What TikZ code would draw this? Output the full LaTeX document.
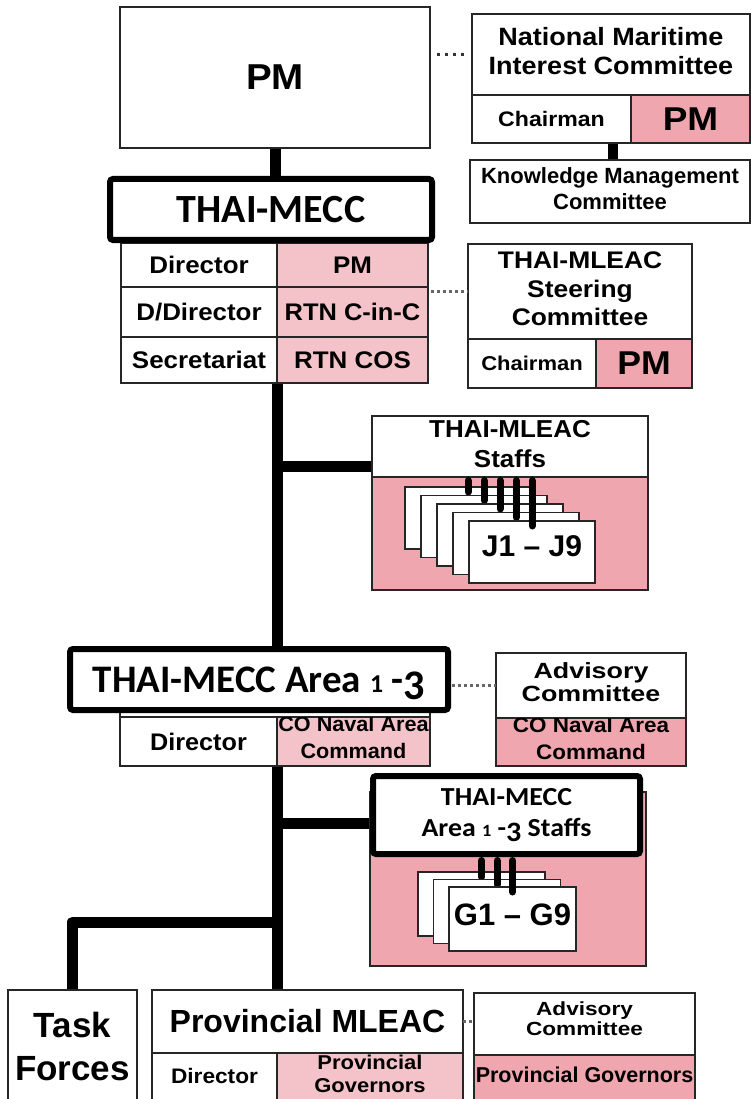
\documentclass[tikz,border=0pt]{standalone}
\usepackage{fontspec}
\usepackage{graphicx}
\newfontfamily\arl{Liberation Sans}
\newfontfamily\calfont{Carlito}
\usetikzlibrary{calc}
\pgfdeclarelayer{bg}
\pgfsetlayers{bg,main}
\definecolor{lpink}{RGB}{244,195,201}
\definecolor{dpink}{RGB}{239,166,174}
\newcommand\fs[2]{\fontsize{#1pt}{#2pt}\selectfont}
\newcommand\sx[2]{\scalebox{#1}[1]{\begin{tabular}{@{}c@{}}#2\end{tabular}}}
\newcommand\sy[2]{\scalebox{#1}[1]{#2}}
\newcommand\osone{\scalebox{0.66}{1}}
\newcommand\osthree{\raisebox{-0.18em}{\scalebox{1.08}{3}}}
\newcommand\bx[7]{\node[#1,minimum width={((#4)-(#2))*1pt},minimum height={((#5)-(#3))*1pt},anchor=north west] (#6) at (#2,#3) {#7};}
\tikzset{
 thinbox/.style={draw=black!85,line width=1.4pt,fill=white,inner sep=0pt,outer sep=0pt},
 heavybox/.style={draw=black,line width=6pt,rounded corners=3pt,fill=white,inner sep=0pt,outer sep=0pt},
 conn/.style={line width=11pt,line cap=butt,line join=round},
 cardline/.style={line width=7pt,line cap=round},
 dotline/.style={line width=3pt,dash pattern=on 2.5pt off 3.5pt,draw=black!60},
 bigdots/.style={line width=3.5pt,dash pattern=on 3pt off 5pt,draw=black!80},
}
\begin{document}
\begin{tikzpicture}[x=1pt,y=-1pt]
\useasboundingbox (0,0) rectangle (751,1099);

% ---------- top: PM and committees
\bx{thinbox,font=\arl\bfseries\fs{36}{40}}{120}{7}{430}{148}{pm}{\sy{1.07}{PM}}
\bx{thinbox,font=\arl\bfseries\fs{25}{29}}{472}{14}{750}{95}{nmic}{\sx{1.08}{National Maritime\\Interest Committee}}
\bx{thinbox,font=\arl\bfseries\fs{21}{24}}{472}{95}{631}{143}{nmicch}{\sy{1.1}{Chairman}}
\bx{thinbox,fill=dpink,font=\arl\bfseries\fs{33}{36}}{631}{95}{750}{143}{nmicpm}{\sy{1.12}{PM}}
\bx{thinbox,font=\arl\bfseries\fs{22}{26}}{470}{160}{750}{223}{km}{\sx{1.0}{Knowledge Management\\Committee}}

% ---------- THAI-MECC table
\bx{thinbox,font=\arl\bfseries\fs{24}{28}}{121}{243}{277}{287}{mtal}{\sy{1.08}{Director}}
\bx{thinbox,fill=lpink,font=\arl\bfseries\fs{24}{28}}{277}{243}{428}{287}{mtar}{\sy{1.08}{PM}}
\bx{thinbox,font=\arl\bfseries\fs{24}{28}}{121}{287}{277}{337}{mtbl}{\sy{1.08}{D/Director}}
\bx{thinbox,fill=lpink,font=\arl\bfseries\fs{24}{28}}{277}{287}{428}{337}{mtbr}{\sy{1.06}{RTN C-in-C}}
\bx{thinbox,font=\arl\bfseries\fs{24}{28}}{121}{337}{277}{383}{mtcl}{\sy{1.08}{Secretariat}}
\bx{thinbox,fill=lpink,font=\arl\bfseries\fs{24}{28}}{277}{337}{428}{383}{mtcr}{\sy{1.08}{RTN COS}}
\bx{heavybox,font=\calfont\bfseries\fs{40}{44}}{110}{179}{432}{240}{mecc}{THAI-MECC}

% ---------- steering committee
\bx{thinbox,font=\arl\bfseries\fs{24}{28.5}}{468}{244}{692}{339}{steer}{\sx{1.1}{THAI-MLEAC\\Steering\\Committee}}
\bx{thinbox,font=\arl\bfseries\fs{20}{24}}{468}{339}{596}{388}{stch}{\sy{1.1}{Chairman}}
\bx{thinbox,fill=dpink,font=\arl\bfseries\fs{33}{36}}{596}{339}{692}{388}{stpm}{\sy{1.08}{PM}}

% ---------- THAI-MLEAC staffs
\bx{thinbox,font=\arl\bfseries\fs{24.5}{30}}{372}{416}{648}{477}{msT}{\sx{1.06}{THAI-MLEAC\\Staffs}}
\bx{thinbox,fill=dpink}{372}{477}{648}{590}{msP}{}
\foreach \i in {0,...,4}{
  \bx{thinbox}{405+16*\i}{487+8.5*\i}{531+16*\i}{549+8.5*\i}{msc\i}{}
  \draw[cardline] ([yshift=-3.5pt]msT.south -| msc\i.north) -- ([yshift=-5pt]msc\i.north);
}
\node[font=\arl\bfseries\fs{30}{34}] (jtext) at (532,546) {J1 – J9};

% ---------- Area 1-3
\bx{thinbox}{120}{700}{430}{717}{atop}{}
\bx{thinbox,font=\arl\bfseries\fs{24}{28}}{120}{717}{277}{766}{atl}{\sy{1.05}{Director}}
\bx{thinbox,fill=lpink}{277}{717}{430}{766}{atr}{}
\begin{scope}
\clip (atr.north west) rectangle (atr.south east);
\node[font=\arl\bfseries\fs{21}{27},inner sep=0pt] (atrt) at ([yshift=2pt]atr.center) {\sx{1.03}{CO Naval Area\\Command}};
\end{scope}
\bx{heavybox,font=\calfont\bfseries\fs{39}{44},text depth=0pt}{70}{649}{448}{710}{area}{THAI-MECC Area \osone{} -\osthree}

\bx{thinbox,font=\arl\bfseries\fs{22}{23}}{496}{653}{686}{718}{adv1}{\sx{1.22}{Advisory\\Committee}}
\bx{thinbox,fill=dpink}{496}{718}{686}{766}{adv1b}{}
\begin{scope}
\clip (adv1b.north west) rectangle (adv1b.south east);
\node[font=\arl\bfseries\fs{21}{27},inner sep=0pt] (adv1bt) at ([yshift=1pt]adv1b.center) {\sx{1.07}{CO Naval Area\\Command}};
\end{scope}

% ---------- Area staffs
\bx{thinbox,fill=dpink}{370}{792}{646}{966}{asP}{}
\bx{heavybox,font=\calfont\bfseries\fs{26}{31}}{373}{776}{640}{854}{asT}{\sx{1.07}{THAI-MECC\\Area \osone{} -\osthree{} Staffs}}
\foreach \i in {0,1,2}{
  \bx{thinbox}{418+15.5*\i}{872+7.5*\i}{545+15.5*\i}{936+7.5*\i}{asc\i}{}
  \draw[cardline] ([yshift=-6.5pt]asT.south -| asc\i.north) -- ([yshift=-5pt]asc\i.north);
}
\node[font=\arl\bfseries\fs{31}{34}] (gtext) at (512.5,915) {G1 – G9};

% ---------- bottom row
\bx{thinbox,font=\arl\bfseries\fs{35}{43}}{8}{990}{137}{1110}{tf}{\sx{1.0}{Task\\Forces}}
\bx{thinbox,font=\arl\bfseries\fs{32}{36}}{152}{990}{463}{1053}{prov}{\sy{1.0}{Provincial MLEAC}}
\bx{thinbox}{152}{1053}{277}{1115}{pdl}{}
\node[font=\arl\bfseries\fs{21}{24},anchor=base,inner sep=0pt] (pdlt) at (214.5,1083) {\sy{1.08}{Director}};
\bx{thinbox,fill=lpink}{277}{1053}{463}{1115}{pgr}{}
\node[font=\arl\bfseries\fs{20}{24},anchor=base,inner sep=0pt] (pgr1) at (370,1069) {\sy{1.1}{Provincial}};
\node[font=\arl\bfseries\fs{20}{24},anchor=base,inner sep=0pt] (pgr2) at (370,1092) {\sy{1.1}{Governors}};

\bx{thinbox}{474}{993}{695}{1055}{adv2}{}
\node[font=\arl\bfseries\fs{19}{20},anchor=base,inner sep=0pt] (adv2a) at (584.5,1015) {\sy{1.19}{Advisory}};
\node[font=\arl\bfseries\fs{19}{20},anchor=base,inner sep=0pt] (adv2c) at (584.5,1035) {\sy{1.19}{Committee}};
\bx{thinbox,fill=dpink}{474}{1055}{695}{1115}{adv2b}{}
\begin{scope}
\clip (adv2b.north west) rectangle (adv2b.south east);
\node[font=\arl\bfseries\fs{21.5}{24},anchor=base,inner sep=0pt] (adv2bt) at (584.5,1082) {Provincial Governors};
\end{scope}

% ---------- dotted links
\draw[bigdots,shorten <=7pt,shorten >=4pt] (pm.east |- nmic.west) -- (nmic.west);
\draw[dotline,shorten <=3pt] (steer.west -| mtbr.east) -- (steer.west);
\draw[dotline,shorten <=4pt] (adv1.west -| area.east) -- (adv1.west);
\draw[dotline] (prov.east) -- (prov.east -| adv2.west);

% ---------- solid connectors (behind boxes)
\coordinate (msj) at (277,466);
\coordinate (asj) at (277,823);
\coordinate (tfj) at (277,922);
\begin{pgfonlayer}{bg}
\draw[conn] (pm.south) -- (pm.south |- mecc.north);
\draw[conn,line width=10pt] ([xshift=3pt]km.north) -- ([xshift=3pt]km.north |- nmicch.south);
\draw[conn] (mtcl.south east) -- (prov.north -| mtcl.south east);
\draw[conn] (msj) -- (msj -| msT.west);
\draw[conn] (asj) -- (asj -| asT.west);
\draw[conn] (tfj) -| (tf.north);
\end{pgfonlayer}
\end{tikzpicture}
\end{document}
